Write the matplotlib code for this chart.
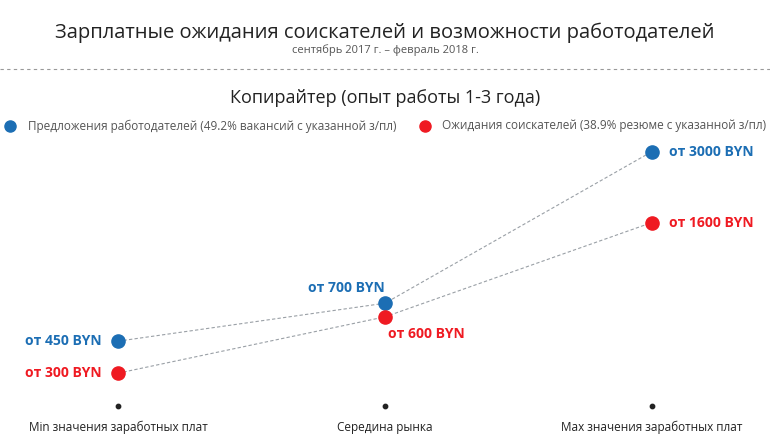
import matplotlib
matplotlib.use("Agg")
import matplotlib.pyplot as plt

plt.rcParams["font.family"] = "Open Sans"

categories = ["Min значения заработных плат", "Середина рынка", "Max значения заработных плат"]
offers = [450, 700, 3000]
expectations = [300, 600, 1600]
offers_label = "Предложения работодателей (49.2% вакансий с указанной з/пл)"
expect_label = "Ожидания соискателей (38.9% резюме с указанной з/пл)"

BLUE = "#1c6eb4"
RED = "#ef1a22"
GRAY = "#555555"

fig = plt.figure(figsize=(7.7, 4.44), dpi=100)
fig.text(0.5, 1 - 33 / 444, "Зарплатные ожидания соискателей и возможности работодателей",
         ha="center", va="center", fontsize=14.5, color="#222222")
fig.text(0.5, 1 - 50 / 444, "сентябрь 2017 г. – февраль 2018 г.", ha="center", va="center",
         fontsize=8, color=GRAY)
fig.add_artist(plt.Line2D([0, 1], [1 - 69 / 444] * 2, color="#999999", lw=0.8, ls=(0, (3, 3))))
fig.text(0.5, 1 - 98 / 444, "Копирайтер (опыт работы 1-3 года)", ha="center", va="center",
         fontsize=13, color="#222222")

# legend row
ly = 1 - 126 / 444
fig.add_artist(plt.Line2D([10 / 770], [ly], marker="o", ms=8, color=BLUE, lw=0))
fig.text(28 / 770, ly, offers_label, va="center", fontsize=8.5, color=GRAY)
fig.add_artist(plt.Line2D([425 / 770], [ly], marker="o", ms=8, color=RED, lw=0))
fig.text(442 / 770, ly, expect_label, va="center", fontsize=8.5, color=GRAY)

# compressed value scale, like the reference
ax = fig.add_axes([0, 34 / 444, 1, 270 / 444])
ax.set_yscale("function", functions=(lambda v: v ** 0.2, lambda t: t ** 5))
ax.set_xlim(-118 / 267, (770 - 118) / 267)
ax.set_ylim(180, 3300)
ax.axis("off")

xs = range(len(categories))
for vals, color in [(offers, BLUE), (expectations, RED)]:
    ax.plot(xs, vals, color="#9aa0a6", lw=0.8, ls=(0, (3, 2)), zorder=1)
    ax.scatter(xs, vals, s=90, color=color, zorder=3, clip_on=False)

lab = dict(fontsize=10, fontweight="bold", va="center")
ax.annotate(f"от {offers[0]} BYN", (0, offers[0]), xytext=(-12, 0), textcoords="offset points", ha="right", color=BLUE, **lab)
ax.annotate(f"от {expectations[0]} BYN", (0, expectations[0]), xytext=(-12, 0), textcoords="offset points", ha="right", color=RED, **lab)
ax.annotate(f"от {offers[1]} BYN", (1, offers[1]), xytext=(0, 11), textcoords="offset points", ha="right", color=BLUE, **lab)
ax.annotate(f"от {expectations[1]} BYN", (1, expectations[1]), xytext=(2, -12), textcoords="offset points", ha="left", color=RED, **lab)
ax.annotate(f"от {offers[2]} BYN", (2, offers[2]), xytext=(12, 0), textcoords="offset points", ha="left", color=BLUE, **lab)
ax.annotate(f"от {expectations[2]} BYN", (2, expectations[2]), xytext=(12, 0), textcoords="offset points", ha="left", color=RED, **lab)

# bottom category axis
bax = fig.add_axes([0, 0, 1, 50 / 444])
bax.set_xlim(ax.get_xlim())
bax.set_ylim(0, 50)
bax.axis("off")
for i, c in enumerate(categories):
    bax.scatter(i, 38, s=10, color="#222222")
    bax.text(i, 17, c, ha="center", va="center", fontsize=8.5, color="#222222")

fig.savefig("out.png", dpi=100)
